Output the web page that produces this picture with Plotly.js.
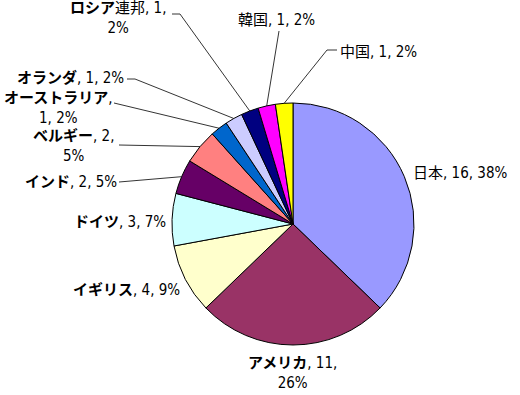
<!DOCTYPE html>
<html>
<head>
<meta charset="utf-8">
<script src="https://cdn.plot.ly/plotly-3.0.1.min.js"></script>
<style>html,body{margin:0;padding:0;background:#fff;}</style>
</head>
<body>
<div id="chart" style="width:520px;height:395px;"></div>
<script>
// ---- data ----
var labels = ['日本','アメリカ','イギリス','ドイツ','インド','ベルギー','オーストラリア','オランダ','ロシア連邦','韓国','中国'];
var values = [16, 11, 4, 3, 2, 2, 1, 1, 1, 1, 1];
var pcts   = [38, 26, 9, 7, 5, 5, 2, 2, 2, 2, 2];
var colors = ['#9999FF','#993366','#FFFFCC','#CCFFFF','#660066','#FF8080','#0066CC','#CCCCFF','#000080','#FF00FF','#FFFF00'];

// ---- layout of labels (pixels) ----
var W = 520, H = 395;
var pie = {left:172, right:414, top:103, bottom:345};
// brk: 0 = one line, 1 = break after name, 2 = break after value
var labelPos = [
  {x:412, y:173, xa:'left',   brk:0, pts:null},
  {x:292, y:373, xa:'center', brk:2, pts:null},
  {x:181, y:290, xa:'right',  brk:0, pts:null},
  {x:167, y:222, xa:'right',  brk:0, pts:null},
  {x:118, y:182, xa:'right',  brk:0, pts:[[119,182]]},
  {x:73,  y:146, xa:'center', brk:2, pts:[[119,145]]},
  {x:58,  y:108, xa:'center', brk:1, pts:[[114,103]]},
  {x:125, y:78,  xa:'right',  brk:0, pts:[[127,79],[135,79]]},
  {x:118, y:18,  xa:'center', brk:2, pts:[[172,14],[180,14]]},
  {x:237, y:20,  xa:'left',   brk:0, pts:[[279,31]]},
  {x:339, y:52,  xa:'left',   brk:0, pts:[[337,50],[327,50]]}
];

var FONT = '"DejaVu Sans Condensed", "DejaVu Sans", "Noto Sans CJK JP", sans-serif';

function px(x){ return x / W; }
function py(y){ return 1 - y / H; }
function boldKana(s){ return s.replace(/([\u30A0-\u30FF]+)/g, '<b>$1</b>'); }

var cx = (pie.left + pie.right) / 2, cy = (pie.top + pie.bottom) / 2;
var r = Math.min(pie.right - pie.left, pie.bottom - pie.top) / 2;
var total = values.reduce(function(a,b){return a+b;}, 0);

var annotations = [], shapes = [];
var cum = 0;
for (var i = 0; i < labels.length; i++) {
  var mid = (cum + values[i] / 2) / total * 2 * Math.PI;
  cum += values[i];
  var ax = cx + r * Math.sin(mid), ay = cy - r * Math.cos(mid);
  var lp = labelPos[i];
  var name = boldKana(labels[i]);
  var txt;
  if (lp.brk === 1) txt = name + ',<br>' + values[i] + ', ' + pcts[i] + '%';
  else if (lp.brk === 2) txt = name + ', ' + values[i] + ',<br>' + pcts[i] + '%';
  else txt = name + ', ' + values[i] + ', ' + pcts[i] + '%';
  annotations.push({
    xref:'paper', yref:'paper', x:px(lp.x), y:py(lp.y),
    xanchor:lp.xa, yanchor:'middle', align:'center',
    text:txt, showarrow:false, borderpad:0,
    font:{family:FONT, size:15, color:'#000'}
  });
  if (lp.pts) {
    var d = '';
    lp.pts.forEach(function(p, k){ d += (k === 0 ? 'M' : ' L') + px(p[0]) + ',' + py(p[1]); });
    d += ' L' + px(ax) + ',' + py(ay);
    shapes.push({type:'path', xref:'paper', yref:'paper', path:d,
                 line:{color:'#000', width:0.8}});
  }
}

var trace = {
  type:'pie', labels:labels, values:values, sort:false,
  direction:'clockwise', rotation:0,
  marker:{colors:colors, line:{color:'#000', width:1}},
  textinfo:'none', hoverinfo:'label+value+percent',
  domain:{x:[px(pie.left), px(pie.right)], y:[py(pie.bottom), py(pie.top)]}
};

var layout = {
  width:W, height:H, margin:{l:0,r:0,t:0,b:0},
  paper_bgcolor:'#fff', plot_bgcolor:'#fff',
  showlegend:false, annotations:annotations, shapes:shapes,
  font:{family:FONT}
};

Plotly.newPlot('chart', [trace], layout, {displayModeBar:false, staticPlot:true});
</script>
</body>
</html>
